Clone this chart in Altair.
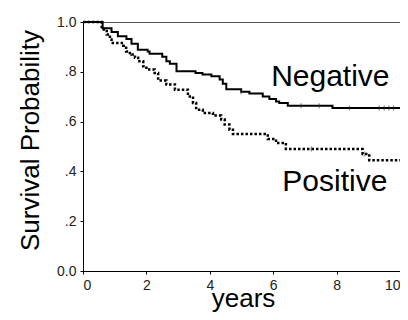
import altair as alt
import pandas as pd

# Kaplan-Meier step curves (years, survival probability)
neg_t = [0, 0.62, 0.9, 1.1, 1.37, 1.53, 1.73, 2.04, 2.1, 2.5, 2.63, 2.74, 2.95, 3.55, 3.77,
         4.05, 4.31, 4.41, 4.52, 4.99, 5.25, 5.67, 5.88, 6.09, 6.19, 6.46, 7.87, 10]
neg_s = [1.0, 0.975, 0.96, 0.943, 0.932, 0.913, 0.889, 0.882, 0.872, 0.86, 0.842, 0.832, 0.802,
         0.795, 0.789, 0.782, 0.769, 0.752, 0.73, 0.72, 0.713, 0.701, 0.691, 0.681, 0.675,
         0.664, 0.655, 0.655]

pos_t = [0, 0.59, 0.75, 0.85, 0.9, 1.27, 1.36, 1.43, 1.53, 1.64, 1.74, 1.9, 2.0, 2.26, 2.37,
         2.63, 2.9, 3.31, 3.47, 3.57, 3.78, 4.1, 4.36, 4.47, 4.62, 4.73, 5.83, 6.09, 6.4,
         8.82, 9.03, 10]
pos_s = [1.0, 0.97, 0.95, 0.93, 0.916, 0.905, 0.882, 0.876, 0.869, 0.856, 0.842, 0.822, 0.809,
         0.795, 0.765, 0.749, 0.728, 0.701, 0.675, 0.648, 0.635, 0.624, 0.608, 0.588, 0.567,
         0.55, 0.53, 0.514, 0.49, 0.47, 0.445, 0.445]

# censored observations (small vertical ticks on the curves)
cens_t = [4.99, 6.88, 7.45, 8.4, 9.34, 9.5, 9.65, 9.8, 7.2, 8.87]
cens_s = [0.72, 0.664, 0.664, 0.655, 0.655, 0.655, 0.655, 0.655, 0.49, 0.47]

label_text = ["Negative", "Positive"]
label_x = [9.67, 9.6]
label_y = [0.742, 0.32]

x_ticks = list(range(11))
y_ticks = [0, 0.1, 0.2, 0.3, 0.4, 0.5, 0.6, 0.7, 0.8, 0.9, 1.0]

neg = pd.DataFrame({"t": neg_t, "s": neg_s})
pos = pd.DataFrame({"t": pos_t, "s": pos_s})
cens = pd.DataFrame({"t": cens_t, "s": cens_s})
labels = pd.DataFrame({"text": label_text, "x": label_x, "y": label_y})

x_enc = alt.X(
    "t:Q",
    scale=alt.Scale(domain=[0, 10], nice=False, zero=False),
    axis=alt.Axis(
        values=x_ticks,
        labelExpr="datum.value % 2 == 0 ? datum.label : ''",
        title="years",
        titleX=160,
        titleY=35,
        titleAlign="center",
        titleBaseline="alphabetic",
        labelPadding=4,
    ),
)
y_enc = alt.Y(
    "s:Q",
    scale=alt.Scale(domain=[0, 1], nice=False),
    axis=alt.Axis(
        values=y_ticks,
        labelExpr="round(datum.value*10) % 2 == 1 ? '' : (datum.value == 0 ? '0.0' : (datum.value >= 0.99 ? '1.0' : '.' + round(datum.value*10)))",
        title="Survival Probability",
        titleX=-45,
        titleY=118,
        titleAlign="center",
        titleBaseline="alphabetic",
        titleAngle=270,
        labelPadding=4,
    ),
)

neg_line = alt.Chart(neg).mark_line(
    interpolate="step-after", color="black", strokeWidth=2
).encode(x=x_enc, y=y_enc)

pos_line = alt.Chart(pos).mark_line(
    interpolate="step-after", color="black", strokeWidth=2.5, strokeDash=[2.5, 2], strokeCap="butt"
).encode(x="t:Q", y="s:Q")

cens_ticks = alt.Chart(cens).mark_tick(
    orient="vertical", color="#333", size=5, thickness=1
).encode(x="t:Q", y="s:Q")

text = alt.Chart(labels).mark_text(
    align="right", baseline="alphabetic", font="Liberation Sans", fontSize=30, color="black"
).encode(x="x:Q", y="y:Q", text="text:N")

chart = (
    alt.layer(neg_line, pos_line, cens_ticks, text)
    .properties(
        width=317,
        height=249,
        autosize="none",
        padding={"left": 75, "top": 14, "right": 0, "bottom": 41},
    )
    .configure_view(stroke="#555", strokeWidth=1)
    .configure_axis(
        grid=False,
        domainColor="black",
        tickColor="black",
        tickSize=3,
        labelFont="Liberation Sans",
        labelFontSize=14,
        labelColor="#222",
        titleFont="Liberation Sans",
        titleFontSize=26,
        titleFontWeight="normal",
        titleColor="black",
    )
)

chart.save("out.html", embed_options={"renderer": "svg", "actions": False})
